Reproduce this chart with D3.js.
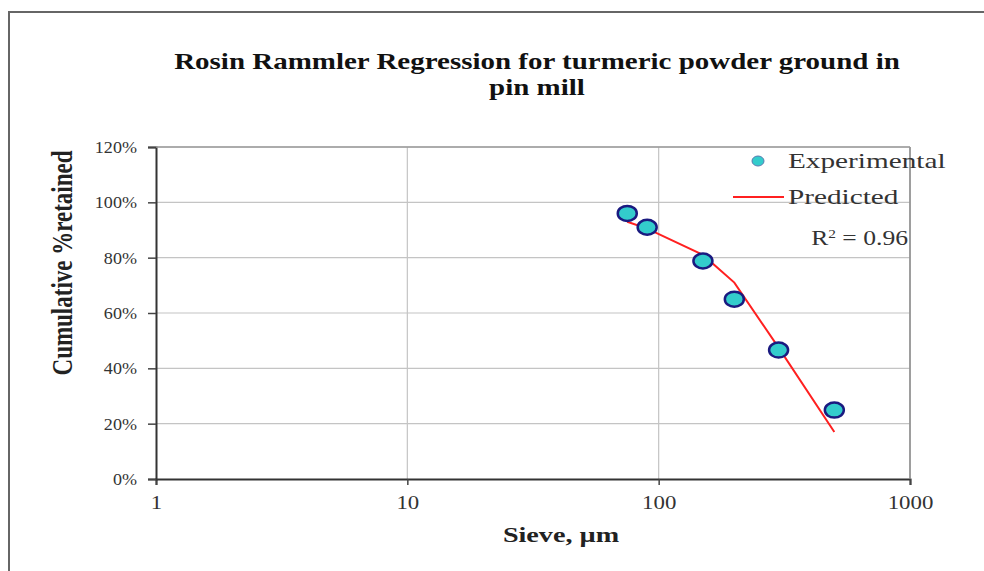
<!DOCTYPE html>
<html>
<head>
<meta charset="utf-8">
<script src="https://cdn.jsdelivr.net/npm/d3@7"></script>
<style>
  html, body { margin: 0; padding: 0; background: #fff; }
  svg { display: block; }
  text { font-family: "Liberation Serif", "Times New Roman", serif; }
</style>
</head>
<body>
<svg id="chart" width="984" height="571"></svg>
<script>
// Sieve sizes (µm) and cumulative fraction retained
const sieveSizes   = [75, 90, 150, 200, 300, 500];
const experimental = [0.96, 0.91, 0.788, 0.65, 0.466, 0.249];
const predicted    = [0.93, 0.905, 0.81, 0.71, 0.475, 0.17];
const xTicks = [1, 10, 100, 1000];
const yTicks = [0, 0.2, 0.4, 0.6, 0.8, 1.0, 1.2];
const titleLines = ["Rosin Rammler Regression for turmeric powder ground in", "pin mill"];
const rSquared = 0.96;

const svg = d3.select("#chart");
const W = 984, H = 571;
const plot = { left: 156, right: 910, top: 147, bottom: 479 };
const SX = 1.28; // wide text rendering

// places a horizontally widened text element
function wideText(parent, px, py, str, opts) {
  const t = parent.append("text")
    .attr("transform", `translate(${px},${py}) scale(${opts.sx || SX},1)`)
    .attr("text-anchor", opts.anchor || "start")
    .attr("font-size", opts.size)
    .attr("font-weight", opts.weight || "normal")
    .attr("fill", opts.fill || "#333");
  if (str !== null) t.text(str);
  return t;
}

// outer chart frame
svg.append("rect")
  .attr("x", 9).attr("y", 12)
  .attr("width", W + 20).attr("height", H + 20)
  .attr("fill", "none").attr("stroke", "#666").attr("stroke-width", 2);

const x = d3.scaleLog().domain([1, 1000]).range([plot.left, plot.right]);
const y = d3.scaleLinear().domain([0, 1.2]).range([plot.bottom, plot.top]);

// gridlines
const grid = svg.append("g").attr("stroke", "#c4c4c4").attr("stroke-width", 1.2);
grid.selectAll("line.h").data(yTicks.slice(1)).join("line")
  .attr("x1", plot.left).attr("x2", plot.right)
  .attr("y1", d => y(d)).attr("y2", d => y(d));
grid.selectAll("line.v").data(xTicks.slice(1)).join("line")
  .attr("x1", d => x(d)).attr("x2", d => x(d))
  .attr("y1", plot.top).attr("y2", plot.bottom);

// axes
const xAxis = d3.axisBottom(x).tickValues(xTicks).tickFormat(d3.format("d")).tickSize(6);
const yAxis = d3.axisLeft(y).tickValues(yTicks).tickFormat(d3.format(".0%")).tickSize(8);

const gx = svg.append("g").attr("transform", `translate(0,${plot.bottom})`).call(xAxis);
const gy = svg.append("g").attr("transform", `translate(${plot.left},0)`).call(yAxis);
[gx, gy].forEach(g => {
  g.attr("font-family", null);
  g.select(".domain").attr("stroke", "#333").attr("stroke-width", 2);
  g.selectAll(".tick line").attr("stroke", "#444").attr("stroke-width", 1.5);
  g.selectAll(".tick text").attr("fill", "#333");
});
gx.selectAll(".tick text")
  .attr("font-size", 18)
  .attr("x", 0).attr("y", 0).attr("dy", null)
  .attr("transform", "translate(0,30) scale(1.27,1)");
gy.selectAll(".tick text")
  .attr("font-size", 16)
  .attr("x", 0).attr("dy", null).attr("y", 0)
  .attr("transform", "translate(-19,5.5) scale(1.13,1)");

// plot border (top and right)
svg.append("line")
  .attr("x1", plot.right).attr("x2", plot.right)
  .attr("y1", plot.top).attr("y2", plot.bottom)
  .attr("stroke", "#8a8a8a").attr("stroke-width", 1.5);
svg.append("line")
  .attr("x1", plot.left).attr("x2", plot.right)
  .attr("y1", plot.top).attr("y2", plot.top)
  .attr("stroke", "#9a9a9a").attr("stroke-width", 1.5);

// predicted curve
const line = d3.line().x((d, i) => x(sieveSizes[i])).y(d => y(d));
svg.append("path")
  .datum(predicted)
  .attr("d", line)
  .attr("fill", "none").attr("stroke", "#ff2020").attr("stroke-width", 2);

// experimental points
svg.append("g").selectAll("ellipse").data(experimental).join("ellipse")
  .attr("cx", (d, i) => x(sieveSizes[i])).attr("cy", d => y(d))
  .attr("rx", 9.5).attr("ry", 7.5)
  .attr("fill", "#33cccc").attr("stroke", "#1a1a80").attr("stroke-width", 2.5);

// legend
const lg = svg.append("g");
lg.append("ellipse").attr("cx", 758).attr("cy", 161).attr("rx", 6).attr("ry", 5)
  .attr("fill", "#33cccc").attr("stroke", "#5a7ab0").attr("stroke-width", 1);
wideText(lg, 788, 167.5, "Experimental", { size: 22, sx: 1.33 });
lg.append("line").attr("x1", 733).attr("x2", 784).attr("y1", 197).attr("y2", 197)
  .attr("stroke", "#ff2020").attr("stroke-width", 2);
wideText(lg, 788, 204, "Predicted", { size: 22, sx: 1.33 });

// coefficient of determination
const r2 = wideText(svg, 908, 245, null, { size: 20, anchor: "end" });
r2.append("tspan").text("R");
r2.append("tspan").attr("dy", -7).attr("font-size", 12).text("2");
r2.append("tspan").attr("dy", 7).text(" = " + rSquared.toFixed(2));

// title
titleLines.forEach((s, i) =>
  wideText(svg, 537, 68.5 + i * 26.5, s, { size: 23, weight: "bold", anchor: "middle", fill: "#111", sx: 1.26 }));

// axis titles
wideText(svg, 561, 542, "Sieve, µm", { size: 22, weight: "bold", anchor: "middle", fill: "#222" });
svg.append("text")
  .attr("transform", "translate(72,263) rotate(-90) scale(1,1.25)")
  .attr("text-anchor", "middle").attr("font-weight", "bold").attr("font-size", 23)
  .attr("fill", "#222").text("Cumulative %retained");
</script>
</body>
</html>
